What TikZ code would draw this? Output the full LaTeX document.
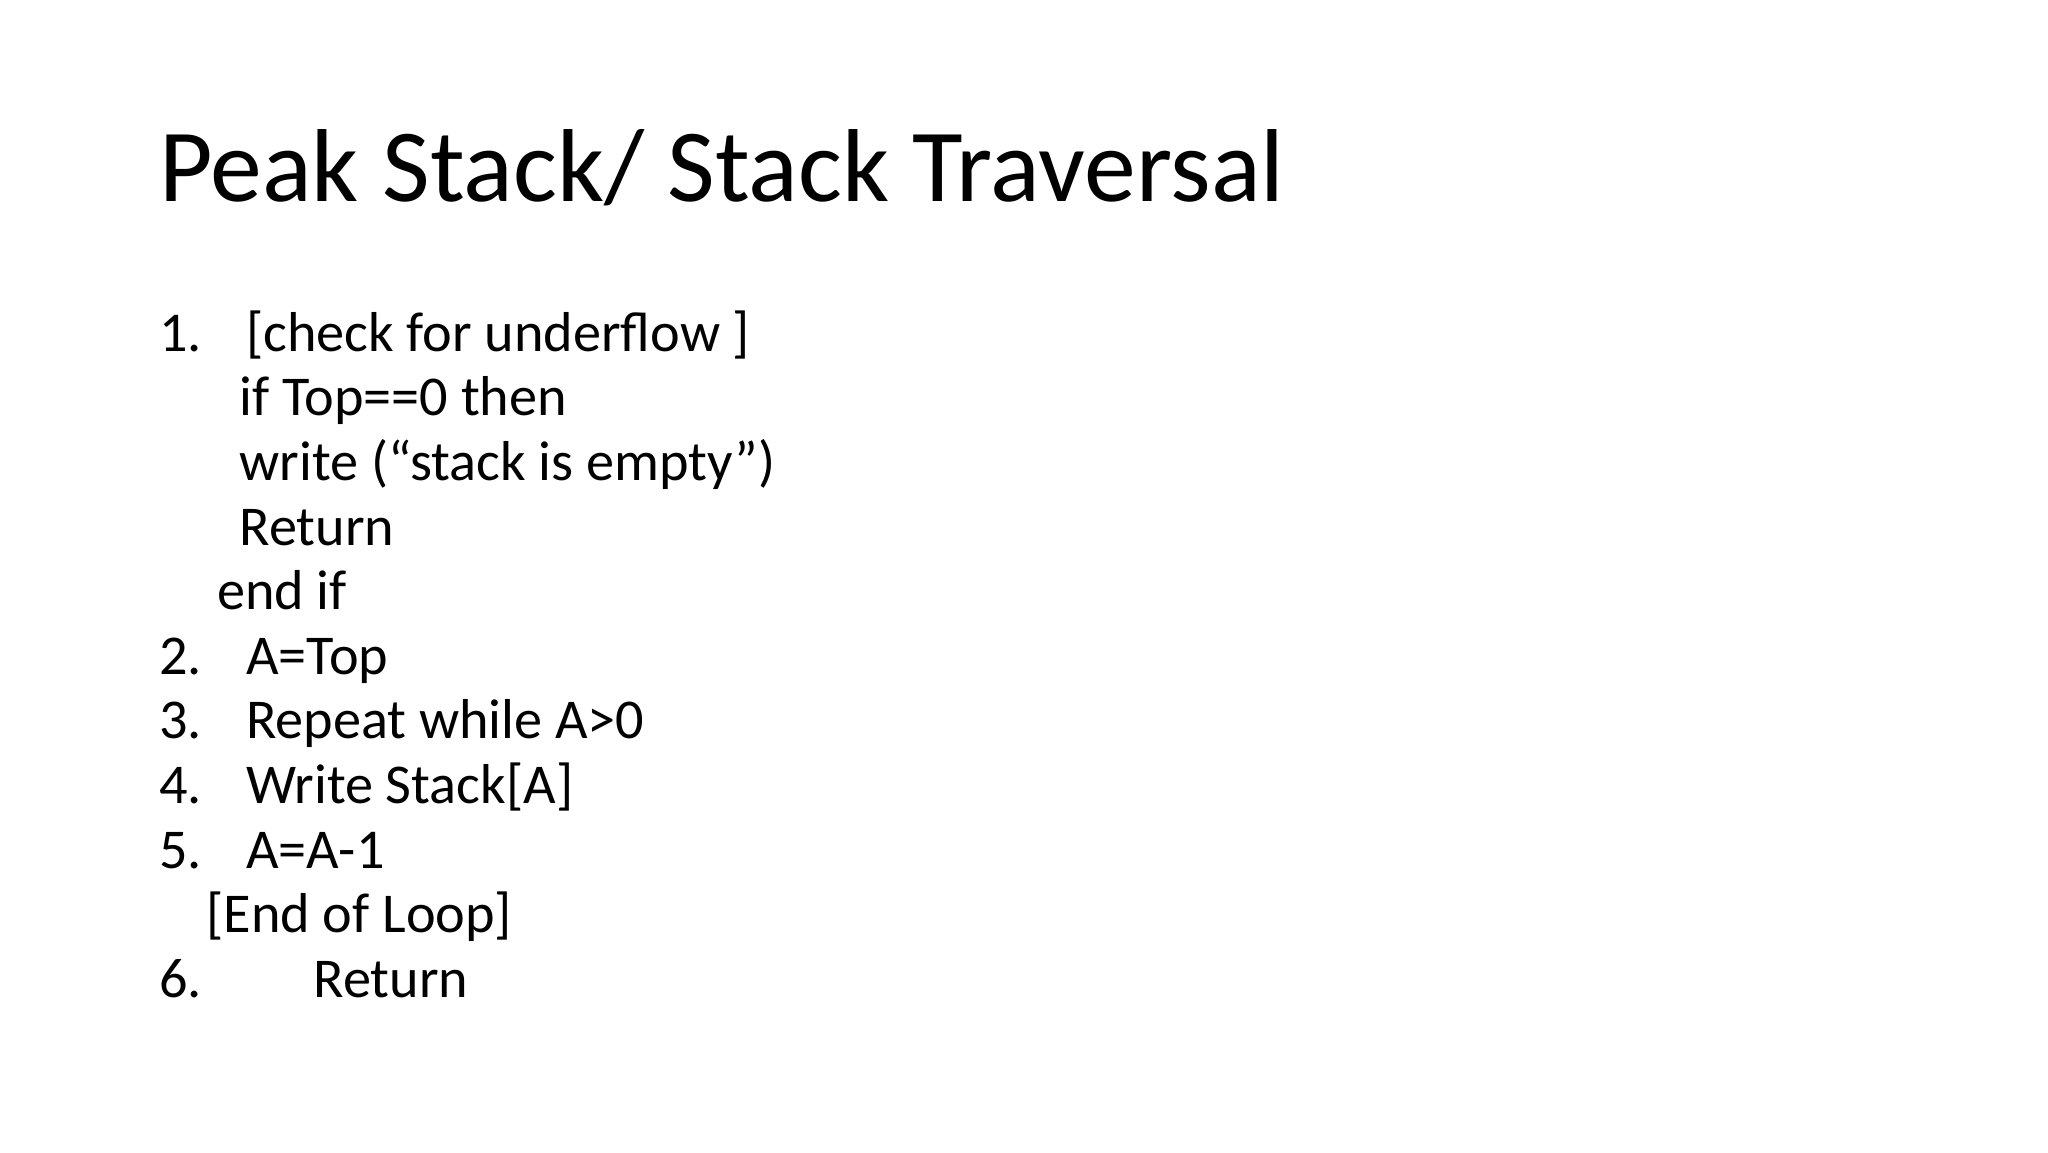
\documentclass[tikz,border=0pt]{standalone}
\usepackage{fontspec}
\setmainfont{Carlito}
\begin{document}
\begin{tikzpicture}[x=0.013196cm,y=-0.013196cm,
  body/.style={anchor=base west,inner sep=0pt,font=\fontsize{16}{18}\selectfont},
  ttl/.style={anchor=base west,inner sep=0pt,font=\fontsize{29.5}{32}\selectfont}]
\useasboundingbox (0,0) rectangle (1552,873);
\node[ttl] (title) at (120,153) {Peak Stack/ Stack Traversal};
\node[body] (n1) at (120,266) {1.};
\node[body] (t1) at (186,266) {[check for underflow ]};
\node[body] (t1a) at (181,315) {if Top==0 then};
\node[body] (t1b) at (181,364) {write (“stack is empty”)};
\node[body] (t1c) at (181,413) {Return};
\node[body] (t1d) at (164,462) {end if};
\node[body] (n2) at (120,511) {2.};
\node[body] (t2) at (186,511) {A=Top};
\node[body] (n3) at (120,560) {3.};
\node[body] (t3) at (186,560) {Repeat while A>0};
\node[body] (n4) at (120,609) {4.};
\node[body] (t4) at (186,609) {Write Stack[A]};
\node[body] (n5) at (120,658) {5.};
\node[body] (t5) at (186,658) {A=A-1};
\node[body] (t5a) at (156,707) {[End of Loop]};
\node[body] (n6) at (120,756) {6.};
\node[body] (t6) at (237,756) {Return};
\end{tikzpicture}
\end{document}
